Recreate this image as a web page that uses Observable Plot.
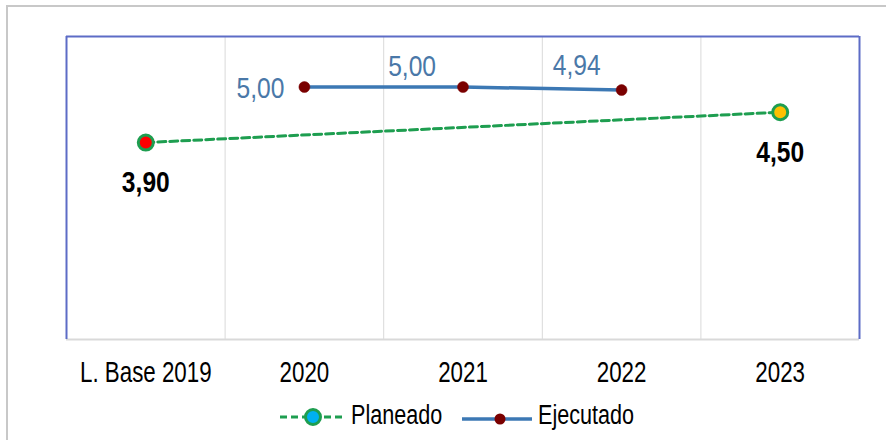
<!DOCTYPE html>
<html>
<head>
<meta charset="utf-8">
<script src="https://cdn.jsdelivr.net/npm/d3@7"></script>
<script src="https://cdn.jsdelivr.net/npm/@observablehq/plot@0.6"></script>
<style>
  html, body { margin: 0; padding: 0; background: #fff; }
  #wrap { position: relative; width: 886px; height: 440px; overflow: hidden; background: #fff;
          font-family: "Liberation Sans", Arial, sans-serif; }
  #outer { position: absolute; left: 6px; top: 5px; width: 920px; height: 500px; border: 2px solid #c8c8c8; box-sizing: border-box; }
  #chart { position: absolute; left: 0; top: 0; }
  #legend { position: absolute; left: 0; top: 395px; width: 886px; height: 45px; font-size: 27px; color: #000; }
  #legend .sw { position: absolute; top: 5px; display: block; }
  #legend .lab { position: absolute; top: 4px; line-height: 32px; white-space: nowrap; transform: scaleX(0.8); transform-origin: 0 50%; }
</style>
</head>
<body>
<div id="wrap">
  <div id="outer"></div>
  <div id="chart"></div>
  <div id="legend"></div>
</div>
<script>
// ---- data ----
const categories = ["L. Base 2019", "2020", "2021", "2022", "2023"];
const seriesNames = ["Planeado", "Ejecutado"];
const planeadoCats = ["L. Base 2019", "2023"];
const planeadoVals = [3.90, 4.50];
const ejecutadoCats = ["2020", "2021", "2022"];
const ejecutadoVals = [5.00, 5.00, 4.94];
const yDomain = [0, 6];

// ---- build ----
const pos = c => categories.indexOf(c) + 0.5;
const fmt = v => d3.format(".2f")(v).replace(".", ",");
const plan = planeadoCats.map((c, i) => ({x: pos(c), y: planeadoVals[i], label: fmt(planeadoVals[i])}));
const ejec = ejecutadoCats.map((c, i) => ({x: pos(c), y: ejecutadoVals[i], label: fmt(ejecutadoVals[i])}));
const n = categories.length;

const green = "#1E9E50", blueLine = "#3C78B4", darkRed = "#7A0000", frameBlue = "#5D6CC6", grid = "#d9d9d9", labBlue = "#4A78A8";
const font = '"Liberation Sans", Arial, sans-serif';

const chart = Plot.plot({
  width: 886,
  height: 395,
  marginLeft: 66,
  marginRight: 27,
  marginTop: 36,
  marginBottom: 56,
  style: {fontFamily: font, fontSize: "29px", color: "#000", background: "transparent", overflow: "visible"},
  x: {domain: [0, n], ticks: d3.range(n).map(i => i + 0.5), tickFormat: d => categories[Math.round(d - 0.5)], tickSize: 0, tickPadding: 22, label: null},
  y: {domain: yDomain, axis: null},
  marks: [
    Plot.ruleX(d3.range(1, n), {stroke: grid, strokeWidth: 1}),
    Plot.ruleY([yDomain[0]], {stroke: grid, strokeWidth: 2}),
    Plot.ruleX([0, n], {y1: yDomain[0], y2: yDomain[1], stroke: frameBlue, strokeWidth: 2}),
    Plot.ruleY([yDomain[1]], {x1: 0, x2: n, stroke: frameBlue, strokeWidth: 2}),
    Plot.line(plan, {x: "x", y: "y", stroke: green, strokeWidth: 3, strokeDasharray: "8,4"}),
    Plot.line(ejec, {x: "x", y: "y", stroke: blueLine, strokeWidth: 3.5}),
    Plot.dot(plan, {x: "x", y: "y", r: 7.5, fill: (d, i) => i === 0 ? "#FF0000" : "#FFC000", stroke: green, strokeWidth: 3}),
    Plot.dot(ejec, {x: "x", y: "y", r: 5.5, fill: darkRed, stroke: darkRed, strokeWidth: 0.5}),
    Plot.text(plan, {x: "x", y: "y", text: "label", dy: 40, fontSize: 30, fontWeight: "bold", fill: "#000", fontFamily: font}),
    Plot.text(ejec.slice(0, 1), {x: "x", y: "y", text: "label", dx: -20, dy: 1, textAnchor: "end", fontSize: 30, fill: labBlue, fontFamily: font}),
    Plot.text(ejec.slice(1, 2), {x: "x", y: "y", text: "label", dx: -27, dy: -21, textAnchor: "end", fontSize: 30, fill: labBlue, fontFamily: font}),
    Plot.text(ejec.slice(2, 3), {x: "x", y: "y", text: "label", dx: -21, dy: -25, textAnchor: "end", fontSize: 30, fill: labBlue, fontFamily: font})
  ]
});
document.getElementById("chart").appendChild(chart);

// condense all SVG text horizontally around its anchor (narrow font look)
chart.querySelectorAll("text").forEach(t => {
  const isTick = !!t.closest('[aria-label="x-axis tick label"], [aria-label="x-axis"]');
  const squeeze = isTick ? 0.77 : 0.82;
  const bb = t.getBBox();
  const anc = t.closest("[text-anchor]");
  const anchor = t.getAttribute("text-anchor") || (anc && anc.getAttribute("text-anchor")) || "start";
  const ax = anchor === "end" ? bb.x + bb.width : anchor === "middle" ? bb.x + bb.width / 2 : bb.x;
  const prev = t.getAttribute("transform") || "";
  t.setAttribute("transform", `${prev} translate(${ax},0) scale(${squeeze},1) translate(${-ax},0)`);
});

// ---- legend ----
const legend = document.getElementById("legend");
const legendLayout = [{sw: 279, lab: 351}, {sw: 461, lab: 538}];
function swatch(kind) {
  const w = 72;
  const s = d3.create("svg").attr("class", "sw").attr("width", w).attr("height", 30);
  if (kind === 0) {
    s.append("line").attr("x1", 1).attr("x2", 67).attr("y1", 17).attr("y2", 17)
      .attr("stroke", green).attr("stroke-width", 3).attr("stroke-dasharray", "7,4");
    s.append("circle").attr("cx", 34).attr("cy", 17).attr("r", 7.5).attr("fill", "#00B0F0").attr("stroke", green).attr("stroke-width", 3);
  } else {
    s.append("line").attr("x1", 1).attr("x2", 71).attr("y1", 19).attr("y2", 19)
      .attr("stroke", blueLine).attr("stroke-width", 3.5);
    s.append("circle").attr("cx", 39).attr("cy", 19).attr("r", 5.5).attr("fill", darkRed);
  }
  return s.node();
}
seriesNames.forEach((name, i) => {
  const sw = swatch(i);
  sw.style.left = legendLayout[i].sw + "px";
  legend.appendChild(sw);
  const t = document.createElement("span");
  t.className = "lab";
  t.textContent = name;
  t.style.left = legendLayout[i].lab + "px";
  legend.appendChild(t);
});
</script>
</body>
</html>
